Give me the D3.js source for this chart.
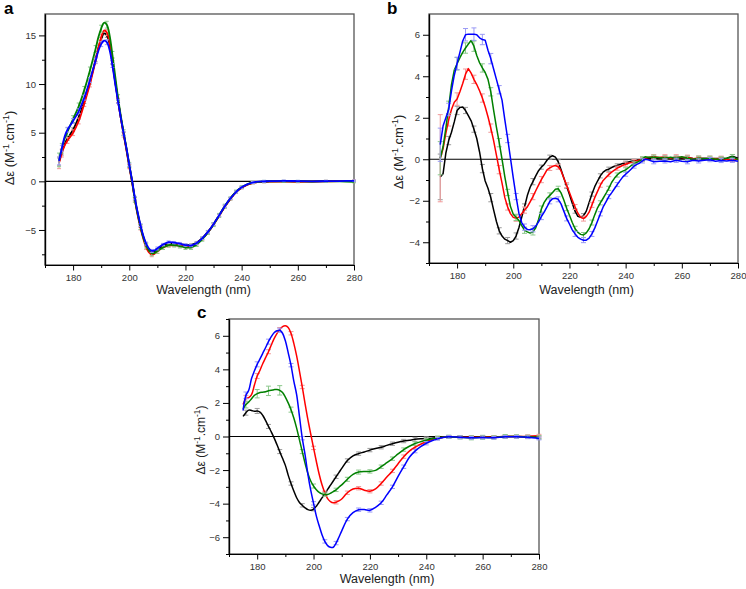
<!DOCTYPE html>
<html><head><meta charset="utf-8">
<script src="https://cdn.jsdelivr.net/npm/d3@7"></script>
<style>
body{margin:0;background:#fff}
svg{display:block;font-family:"Liberation Sans",Arial,sans-serif}
</style>
</head><body>
<svg id="chart" width="746" height="589"></svg>
<script>
// ---------- shared ticks ----------
const X_MAJOR = [180,200,220,240,260,280];
const X_MINOR = [170,190,210,230,250,270];
const A_Y_MAJOR = [-5,0,5,10,15];
const A_Y_MINOR = [-7.5,-2.5,2.5,7.5,12.5];
const B_Y_MAJOR = [-4,-2,0,2,4,6];
const B_Y_MINOR = [-5,-3,-1,1,3,5];
const C_Y_MAJOR = [-6,-4,-2,0,2,4,6];
const C_Y_MINOR = [-7,-5,-3,-1,1,3,5,7];
const SERIES_COLORS = ["#000000","#ff0000","#008000","#0000ff"];
const ERR_COLORS = ["#9a9a9a","#f09a9a","#8cc88c","#9a9af5"];

// ---------- panel a ----------
const A_WL = [175,176,177,178,180,182,184,186,188,189,190,191,192,193,194,195,196,197,198,199,200,201,202,203,204,205,206,207,208,209,210,212,214,216,218,220,222,224,226,228,230,232,234,236,238,240,242,244,246,248,250,255,260,265,270,275,280];
const A_BLACK = [2.0,3.0,3.8,4.4,5.3,6.6,8.2,10.2,12.5,13.7,14.6,15.2,15.0,14.1,12.2,10.2,8.3,6.5,4.9,3.3,1.6,0.0,-1.8,-3.3,-4.6,-5.7,-6.5,-7.0,-7.3,-7.25,-7.05,-6.65,-6.45,-6.4,-6.45,-6.55,-6.55,-6.3,-5.85,-5.2,-4.4,-3.5,-2.6,-1.8,-1.1,-0.65,-0.35,-0.15,-0.07,-0.03,0,0.02,0,0,0.02,0.03,0.05];
const A_RED = [1.9,2.9,3.7,4.2,5.0,6.2,8.0,10.0,12.4,13.7,14.8,15.5,15.3,14.3,12.4,10.3,8.3,6.5,4.8,3.2,1.5,-0.1,-1.9,-3.5,-4.8,-5.9,-6.8,-7.3,-7.55,-7.45,-7.2,-6.8,-6.6,-6.55,-6.6,-6.7,-6.7,-6.4,-5.9,-5.25,-4.45,-3.55,-2.6,-1.8,-1.1,-0.65,-0.35,-0.15,-0.08,-0.05,-0.03,-0.02,-0.05,-0.02,0,0.02,0.03];
const A_GREEN = [2.2,3.4,4.4,5.1,6.4,7.7,9.4,11.4,13.6,14.8,15.7,16.3,16.1,15.0,13.0,10.8,8.6,6.7,5.0,3.4,1.7,0.0,-1.9,-3.4,-4.7,-5.8,-6.6,-7.1,-7.4,-7.35,-7.15,-6.8,-6.55,-6.55,-6.65,-6.8,-6.8,-6.5,-5.95,-5.25,-4.45,-3.5,-2.55,-1.75,-1.05,-0.6,-0.3,-0.12,-0.05,-0.02,0,0,0,-0.02,0,0,-0.05];
const A_BLUE = [2.1,3.4,4.6,5.3,6.2,7.2,8.6,10.4,12.4,13.4,14.1,14.45,14.3,13.5,11.9,10.0,8.2,6.5,4.9,3.4,1.7,0.1,-1.7,-3.2,-4.5,-5.6,-6.4,-6.9,-7.15,-7.1,-6.9,-6.5,-6.25,-6.3,-6.4,-6.55,-6.6,-6.35,-5.85,-5.2,-4.4,-3.5,-2.55,-1.75,-1.1,-0.62,-0.32,-0.12,-0.03,0,0.02,0.05,0.02,0,0.02,0.03,0.05];
const A_ERR_WL = [175,176,178,180,182,184,186,188,190,192,194,196,198,200,202,204,206,208,210,212,214,216,218,220,222,224,226,228,230,232,234,236,238,240,244,248,255,260,270,280];
const A_ERR_BLACK = [0.4,0.3,0.2,0.2,0.2,0.2,0.2,0.2,0.2,0.2,0.2,0.2,0.15,0.15,0.15,0.15,0.15,0.15,0.15,0.12,0.12,0.12,0.12,0.12,0.12,0.12,0.12,0.12,0.12,0.12,0.12,0.1,0.1,0.1,0.1,0.1,0.08,0.08,0.08,0.08];
const A_ERR_RED = [0.6,0.4,0.3,0.3,0.3,0.3,0.3,0.3,0.3,0.3,0.3,0.25,0.25,0.2,0.2,0.2,0.2,0.2,0.2,0.2,0.15,0.15,0.15,0.15,0.15,0.15,0.15,0.15,0.15,0.15,0.15,0.12,0.12,0.12,0.1,0.1,0.1,0.1,0.1,0.1];
const A_ERR_GREEN = [0.7,0.5,0.4,0.35,0.35,0.35,0.35,0.35,0.35,0.35,0.35,0.3,0.3,0.25,0.25,0.25,0.25,0.25,0.25,0.2,0.2,0.2,0.2,0.2,0.2,0.2,0.2,0.2,0.2,0.2,0.2,0.15,0.15,0.15,0.12,0.12,0.1,0.1,0.1,0.1];
const A_ERR_BLUE = [0.4,0.3,0.25,0.25,0.25,0.25,0.25,0.25,0.25,0.25,0.2,0.2,0.2,0.15,0.15,0.15,0.15,0.15,0.15,0.12,0.12,0.12,0.12,0.12,0.12,0.12,0.12,0.12,0.12,0.12,0.12,0.1,0.1,0.1,0.1,0.1,0.08,0.08,0.08,0.08];

// ---------- panel b ----------
const B_WL = [174,175,176,177,178,179,180,181,182,183,184,185,186,187,188,189,190,191,192,193,194,195,196,197,198,199,200,201,202,203,204,205,206,207,208,209,210,211,212,213,214,215,216,217,218,219,220,221,222,223,224,225,226,227,228,229,230,231,232,233,234,235,236,237,238,239,240,241,242,243,244,245,246,247,248,250,252,254,256,258,260,262,264,266,268,270,272,274,276,278,280];
const B_BLACK = [-0.85,-0.7,0.3,0.9,1.3,1.8,2.35,2.5,2.52,2.35,
  2.1,1.85,1.45,1.0,0.35,-0.45,-1.05,-1.4,-1.85,-2.44,
  -3.0,-3.45,-3.7,-3.85,-3.92,-4.0,-3.92,-3.7,-3.3,-2.8,
  -2.3,-1.75,-1.35,-1.08,-0.8,-0.55,-0.38,-0.25,-0.05,0.1,
  0.17,0.1,-0.12,-0.5,-0.9,-1.3,-1.7,-2.12,-2.5,-2.75,
  -2.8,-2.72,-2.5,-2.08,-1.68,-1.32,-1.05,-0.8,-0.62,-0.52,
  -0.48,-0.4,-0.34,-0.3,-0.25,-0.2,-0.17,-0.13,-0.1,-0.08,
  -0.06,-0.04,-0.01,0.02,0.04,
  0.06,0.05,0.08,0.04,0.07,0.05,0.08,0.04,0.03,0.05,0.02,0.04,0.03,0.05,0.15,0.05];
const B_RED = [0.05,0.5,1.25,1.9,2.4,2.75,2.9,3.25,3.65,4.1,
  4.37,4.15,3.85,3.6,3.3,2.95,2.53,2.05,1.5,0.9,
  0.2,-0.5,-1.15,-1.85,-2.3,-2.62,-2.8,-2.84,-2.79,-2.62,
  -2.45,-2.3,-2.05,-1.8,-1.52,-1.25,-0.98,-0.75,-0.51,-0.42,
  -0.34,-0.3,-0.36,-0.55,-0.9,-1.25,-1.6,-1.96,-2.3,-2.6,
  -2.8,-2.86,-2.75,-2.55,-2.2,-1.85,-1.55,-1.25,-1.02,-0.88,
  -0.74,-0.62,-0.52,-0.43,-0.36,-0.29,-0.24,-0.19,-0.15,-0.11,
  -0.07,-0.03,0.01,0.05,0.08,
  0.12,0.08,0.12,0.05,0.12,0.08,0.1,0.02,0.06,0.03,0.05,0.02,0.05,0.0,-0.02,0.0];
const B_GREEN = [0.05,0.6,1.5,2.5,3.6,4.3,4.6,4.9,5.15,5.36,
  5.55,5.72,5.45,5.0,4.65,4.4,4.18,3.85,3.25,2.37,
  1.55,0.8,0.0,-0.85,-1.6,-2.28,-2.65,-2.8,-2.95,-3.2,
  -3.42,-3.5,-3.56,-3.5,-3.3,-2.9,-2.4,-2.08,-1.88,-1.74,
  -1.6,-1.45,-1.42,-1.62,-1.96,-2.36,-2.7,-3.05,-3.35,-3.52,
  -3.62,-3.65,-3.55,-3.35,-3.05,-2.68,-2.34,-2.1,-1.88,-1.65,
  -1.4,-1.12,-0.92,-0.76,-0.64,-0.57,-0.51,-0.41,-0.3,-0.22,
  -0.15,-0.08,0.02,0.12,0.1,
  0.1,0.08,0.05,0.1,0.05,0.12,0.05,0.0,0.05,0.02,0.05,0.0,0.02,0.05,0.12,-0.02];
const B_BLUE = [0.7,1.6,2.0,2.4,3.3,4.05,4.62,5.15,5.7,6.0,
  6.03,6.03,6.03,6.0,5.85,5.77,5.74,5.25,4.85,4.35,
  3.85,3.35,2.85,1.9,1.0,0.05,-0.9,-1.8,-2.6,-3.05,
  -3.27,-3.38,-3.4,-3.35,-3.22,-3.02,-2.76,-2.55,-2.3,-2.03,
  -1.9,-1.88,-1.93,-2.15,-2.5,-2.85,-3.12,-3.4,-3.6,-3.76,
  -3.85,-3.9,-3.9,-3.8,-3.6,-3.32,-2.98,-2.63,-2.3,-2.05,
  -1.8,-1.62,-1.42,-1.22,-1.03,-0.85,-0.72,-0.6,-0.47,-0.33,
  -0.25,-0.18,-0.08,0.0,-0.03,
  -0.12,-0.1,-0.08,-0.12,-0.05,-0.1,-0.12,-0.05,-0.08,-0.05,-0.02,-0.1,-0.06,-0.08,-0.05,-0.1];
const B_ERR_WL = [174,177,180,183,186,189,192,195,198,201,204,207,210,213,216,219,222,225,228,231,234,237,240,243,246,250,254,258,262,266,270,274,278];
const B_ERR_BLACK = [1.1,0.2,0.2,0.15,0.15,0.2,0.2,0.15,0.15,0.15,0.15,0.15,0.1,0.1,0.1,0.1,0.1,0.1,0.1,0.1,0.1,0.08,0.08,0.08,0.08,0.08,0.08,0.08,0.08,0.08,0.08,0.08,0.08];
const B_ERR_RED = [2.1,0.3,0.3,0.25,0.2,0.2,0.2,0.2,0.15,0.15,0.15,0.15,0.15,0.12,0.12,0.12,0.12,0.12,0.12,0.1,0.1,0.1,0.1,0.1,0.1,0.1,0.1,0.1,0.1,0.1,0.1,0.1,0.1];
const B_ERR_GREEN = [0.8,0.3,0.3,0.25,0.25,0.2,0.2,0.2,0.15,0.15,0.15,0.15,0.15,0.12,0.12,0.12,0.12,0.12,0.12,0.1,0.1,0.1,0.1,0.1,0.1,0.1,0.1,0.1,0.1,0.1,0.1,0.1,0.1];
const B_ERR_BLUE = [0.8,0.3,0.3,0.3,0.3,0.25,0.25,0.2,0.2,0.15,0.15,0.15,0.15,0.12,0.12,0.12,0.12,0.12,0.12,0.1,0.1,0.1,0.1,0.1,0.1,0.1,0.1,0.1,0.1,0.1,0.1,0.1,0.1];

// ---------- panel c ----------
const C_WL = [175,176,177,178,179,180,181,182,183,184,185,186,187,188,189,190,191,192,193,194,195,196,197,198,199,200,201,202,203,204,205,206,207,208,209,210,212,214,216,218,220,222,224,226,228,230,232,234,236,238,240,242,244,246,248,252,256,260,264,268,272,276,280];
const C_BLACK = [1.2,1.42,1.57,1.55,1.5,1.52,1.45,1.25,0.95,0.6,
  0.28,-0.08,-0.48,-0.9,-1.3,-1.72,-2.3,-2.8,-3.25,-3.65,
  -3.93,-4.1,-4.25,-4.36,-4.4,-4.33,-4.15,-3.9,-3.66,-3.41,
  -3.15,-2.9,-2.65,-2.4,-2.15,-1.9,
  -1.43,-1.15,-1.02,-0.92,-0.81,-0.72,-0.64,-0.53,-0.43,-0.34,-0.27,-0.22,-0.17,-0.14,-0.12,-0.1,-0.07,-0.04,-0.02,
  -0.02,-0.03,-0.02,-0.03,0.0,0.0,-0.03,-0.05];
const C_RED = [1.9,2.25,2.32,2.5,3.05,3.6,3.95,4.35,4.7,5.05,
  5.45,5.83,6.13,6.37,6.55,6.6,6.5,6.15,5.55,4.8,
  3.9,2.95,1.95,1.0,0.15,-0.68,-1.49,-2.25,-2.88,-3.35,
  -3.7,-3.88,-3.95,-3.92,-3.84,-3.72,
  -3.35,-3.13,-3.08,-3.2,-3.26,-3.12,-2.8,-2.42,-2.05,-1.62,-1.2,-0.87,-0.64,-0.46,-0.31,-0.18,-0.1,-0.05,-0.02,
  -0.03,-0.05,-0.03,-0.04,0.0,0.0,0.02,0.05];
const C_GREEN = [1.65,1.9,2.05,2.25,2.45,2.55,2.62,2.64,2.66,2.72,
  2.76,2.79,2.8,2.75,2.62,2.35,2.0,1.6,1.1,0.5,
  -0.2,-0.9,-1.6,-2.2,-2.65,-2.95,-3.17,-3.33,-3.42,-3.46,
  -3.45,-3.38,-3.28,-3.18,-3.02,-2.88,
  -2.55,-2.26,-2.12,-2.08,-2.08,-2.02,-1.8,-1.56,-1.32,-1.04,-0.78,-0.58,-0.42,-0.31,-0.22,-0.14,-0.08,-0.04,-0.02,
  -0.05,-0.08,-0.05,-0.06,0.0,0.0,-0.02,-0.05];
const C_BLUE = [1.55,2.45,2.75,3.45,3.9,4.3,4.62,4.97,5.3,5.65,
  5.95,6.18,6.3,6.33,6.15,5.7,5.0,4.25,3.3,2.5,
  1.2,-0.1,-1.1,-2.25,-3.2,-3.98,-4.74,-5.32,-5.85,-6.25,
  -6.5,-6.6,-6.6,-6.35,-6.0,-5.62,
  -4.92,-4.54,-4.36,-4.35,-4.4,-4.22,-3.95,-3.48,-3.0,-2.38,-1.8,-1.24,-0.87,-0.6,-0.4,-0.25,-0.14,-0.06,-0.02,
  -0.05,-0.08,-0.06,-0.08,-0.02,-0.02,-0.05,-0.12];
const C_ERR_WL = [176,180,184,188,192,196,200,204,208,212,216,220,224,228,232,236,240,244,248,252,256,260,264,268,272,276,280];
const C_ERR_BLACK = [0.15,0.15,0.12,0.12,0.1,0.1,0.1,0.1,0.1,0.1,0.1,0.1,0.1,0.1,0.1,0.12,0.1,0.08,0.08,0.08,0.08,0.08,0.08,0.08,0.08,0.08,0.08];
const C_ERR_RED = [0.2,0.15,0.12,0.12,0.1,0.1,0.1,0.1,0.1,0.1,0.1,0.1,0.1,0.1,0.1,0.1,0.08,0.08,0.08,0.08,0.08,0.08,0.08,0.08,0.08,0.08,0.08];
const C_ERR_GREEN = [0.2,0.25,0.28,0.28,0.15,0.12,0.12,0.1,0.1,0.12,0.12,0.1,0.1,0.1,0.1,0.1,0.1,0.1,0.1,0.1,0.12,0.12,0.1,0.12,0.1,0.1,0.1];
const C_ERR_BLUE = [0.2,0.15,0.15,0.12,0.1,0.1,0.1,0.1,0.1,0.1,0.1,0.1,0.1,0.1,0.1,0.1,0.1,0.08,0.08,0.08,0.08,0.08,0.08,0.08,0.08,0.08,0.08];

const svg = d3.select("#chart");

function drawPanel(p){
  const g = svg.append("g");
  const x = d3.scaleLinear().domain([170,280]).range([p.L,p.R]);
  const y = d3.scaleLinear().domain(p.yDom).range([p.B,p.T]);

  // frame (top/right)
  g.append("rect").attr("x",p.L).attr("y",p.T).attr("width",p.R-p.L).attr("height",p.B-p.T)
    .attr("fill","none").attr("stroke","#555").attr("stroke-width",1.3);

  // zero line
  g.append("line").attr("x1",p.L).attr("x2",p.R).attr("y1",y(0)).attr("y2",y(0))
    .attr("stroke","#000").attr("stroke-width",1.1);

  const styleAxis = sel => {
    sel.select(".domain").attr("stroke","#000").attr("stroke-width",1.2);
    sel.selectAll(".tick line").attr("stroke","#000");
    sel.selectAll(".tick text").attr("fill","#333").attr("font-size",p.tickFont)
      .attr("font-family","'Liberation Sans',Arial,sans-serif");
  };
  g.append("g").attr("transform",`translate(0,${p.B})`)
    .call(d3.axisBottom(x).tickValues(X_MINOR).tickSize(3).tickSizeOuter(0).tickFormat(""))
    .call(styleAxis);
  g.append("g").attr("transform",`translate(0,${p.B})`)
    .call(d3.axisBottom(x).tickValues(X_MAJOR).tickSize(5.5).tickSizeOuter(0).tickPadding(4).tickFormat(d3.format("d")))
    .call(styleAxis);
  g.append("g").attr("transform",`translate(${p.L},0)`)
    .call(d3.axisLeft(y).tickValues(p.yMinor).tickSize(3).tickSizeOuter(0).tickFormat(""))
    .call(styleAxis);
  g.append("g").attr("transform",`translate(${p.L},0)`)
    .call(d3.axisLeft(y).tickValues(p.yMajor).tickSize(6).tickSizeOuter(0).tickPadding(3).tickFormat(d3.format("d")))
    .call(styleAxis);

  // data
  const line = d3.line().x(d=>x(d[0])).y(d=>y(d[1])).curve(p.curve);
  p.series.forEach((s,si)=>{
    const pts = p.wl.map((w,i)=>[w,s.v[i]]);
    const eg = g.append("g").attr("stroke",ERR_COLORS[si]).attr("stroke-width",1);
    s.errWl.forEach((w,i)=>{
      const idx = p.wl.indexOf(w);
      const e = s.err[i];
      if(idx<0 || e===undefined) return;
      const v = s.v[idx];
      const cx = x(w), y1 = y(v-e), y2 = y(v+e);
      eg.append("line").attr("x1",cx).attr("x2",cx).attr("y1",y1).attr("y2",y2);
      eg.append("line").attr("x1",cx-p.cap).attr("x2",cx+p.cap).attr("y1",y1).attr("y2",y1);
      eg.append("line").attr("x1",cx-p.cap).attr("x2",cx+p.cap).attr("y1",y2).attr("y2",y2);
    });
    g.append("path").datum(pts).attr("d",line).attr("fill","none")
      .attr("stroke",SERIES_COLORS[si]).attr("stroke-width",p.lw).attr("stroke-linejoin","round");
  });

  // labels
  g.append("text").attr("x",p.letterX).attr("y",p.letterY).text(p.letter)
    .attr("font-weight","bold").attr("font-size",17).attr("fill","#000");
  g.append("text").attr("x",(p.L+p.R)/2+p.xlabDx).attr("y",p.xlabY).attr("text-anchor","middle")
    .attr("font-size",12.5).attr("fill","#222").text("Wavelength (nm)");
  const yl = g.append("text").attr("transform",`translate(${p.ylabX},${p.ylabY}) rotate(-90)`)
    .attr("text-anchor","middle").attr("font-size",p.ylabFont).attr("fill","#222");
  yl.append("tspan").text("\u0394\u03b5 (M");
  yl.append("tspan").attr("dy",-5).attr("font-size",p.ylabFont*0.7).text("-1");
  yl.append("tspan").attr("dy",5).text(".cm");
  yl.append("tspan").attr("dy",-5).attr("font-size",p.ylabFont*0.7).text("-1");
  yl.append("tspan").attr("dy",5).text(")");
}

drawPanel({
  L:45,R:354,T:14,B:265,yDom:[-8.6,17.2],yMajor:A_Y_MAJOR,yMinor:A_Y_MINOR,
  wl:A_WL,curve:d3.curveCatmullRom,lw:1.8,cap:2,tickFont:9.5,
  series:[
    {v:A_BLACK,errWl:A_ERR_WL,err:A_ERR_BLACK},
    {v:A_RED,errWl:A_ERR_WL,err:A_ERR_RED},
    {v:A_GREEN,errWl:A_ERR_WL,err:A_ERR_GREEN},
    {v:A_BLUE,errWl:A_ERR_WL,err:A_ERR_BLUE}],
  letter:"a",letterX:4,letterY:14,xlabDx:4,xlabY:294,ylabX:14,ylabY:148,ylabFont:13
});
drawPanel({
  L:429,R:738,T:14,B:263,yDom:[-5,7],yMajor:B_Y_MAJOR,yMinor:B_Y_MINOR,
  wl:B_WL,curve:d3.curveLinear,lw:1.5,cap:2.5,tickFont:9.5,
  series:[
    {v:B_BLACK,errWl:B_ERR_WL,err:B_ERR_BLACK},
    {v:B_RED,errWl:B_ERR_WL,err:B_ERR_RED},
    {v:B_GREEN,errWl:B_ERR_WL,err:B_ERR_GREEN},
    {v:B_BLUE,errWl:B_ERR_WL,err:B_ERR_BLUE}],
  letter:"b",letterX:387,letterY:14,xlabDx:3,xlabY:294,ylabX:403,ylabY:152,ylabFont:13
});
drawPanel({
  L:229,R:539,T:319,B:554,yDom:[-7,7],yMajor:C_Y_MAJOR,yMinor:C_Y_MINOR,
  wl:C_WL,curve:d3.curveCatmullRom,lw:1.5,cap:2.5,tickFont:9.5,
  series:[
    {v:C_BLACK,errWl:C_ERR_WL,err:C_ERR_BLACK},
    {v:C_RED,errWl:C_ERR_WL,err:C_ERR_RED},
    {v:C_GREEN,errWl:C_ERR_WL,err:C_ERR_GREEN},
    {v:C_BLUE,errWl:C_ERR_WL,err:C_ERR_BLUE}],
  letter:"c",letterX:197,letterY:318,xlabDx:3,xlabY:583,ylabX:205,ylabY:440,ylabFont:12
});
</script>
</body></html>
